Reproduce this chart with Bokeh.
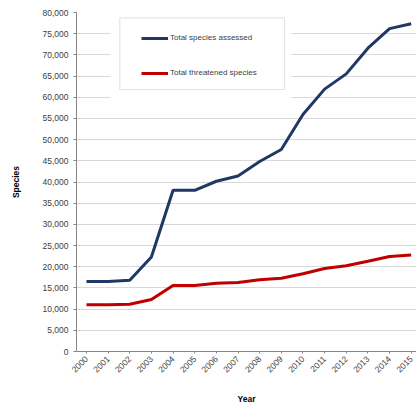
import math
from bokeh.plotting import figure
from bokeh.models import (FixedTicker, NumeralTickFormatter, Legend, LegendItem,
                          BoxAnnotation, Range1d)
from bokeh.embed import file_html
from bokeh.resources import INLINE

years = list(range(2000, 2016))
assessed = [16507, 16507, 16800, 22300, 38047, 38047, 40177, 41415, 44838,
            47677, 55926, 61914, 65518, 71576, 76199, 77340]
threatened = [11046, 11046, 11167, 12259, 15589, 15589, 16118, 16306, 16928,
              17291, 18351, 19570, 20219, 21286, 22413, 22784]
y_ticks = list(range(0, 80001, 5000))
series_names = ["Total species assessed", "Total threatened species"]

FONT = "Liberation Sans"
TXT = "#404040"

p = figure(width=416, height=407, output_backend="svg", toolbar_location=None,
           x_range=Range1d(1999.54, 2015.245), y_range=Range1d(0, 80000),
           min_border_left=76, min_border_right=0, min_border_top=12,
           min_border_bottom=55)
p.outline_line_color = None
p.background_fill_color = "white"

r1 = p.line(years, assessed, line_color="#1F3864", line_width=3)
r2 = p.line(years, threatened, line_color="#C00000", line_width=3)

p.xgrid.visible = False
p.ygrid.grid_line_color = "#D9D9D9"
p.ygrid.grid_line_width = 1
p.ygrid.ticker = FixedTicker(ticks=y_ticks)

p.xaxis.ticker = FixedTicker(ticks=years)
p.xaxis.major_label_orientation = math.pi / 4
p.yaxis.ticker = FixedTicker(ticks=y_ticks)
p.yaxis.formatter = NumeralTickFormatter(format="0,0")
for ax in (p.xaxis, p.yaxis):
    ax.axis_line_color = "#868686"
    ax.major_tick_line_color = "#868686"
    ax.major_tick_in = 0
    ax.minor_tick_line_color = None
    ax.major_label_text_font = FONT
    ax.major_label_text_font_size = "8.5px"
    ax.major_label_text_color = TXT
    ax.axis_label_text_font = FONT
    ax.axis_label_text_font_size = "8.5px"
    ax.axis_label_text_font_style = "bold"
    ax.axis_label_text_color = "#000000"
p.xaxis.major_tick_out = 2
p.yaxis.major_tick_out = 3
p.xaxis.major_label_standoff = 4
p.yaxis.major_label_standoff = 5
p.xaxis.axis_label = "Year"
p.yaxis.axis_label = "Species"
p.xaxis.axis_label_standoff = 16
p.yaxis.axis_label_standoff = 19

# white area behind legend, then legend frame
p.add_layout(BoxAnnotation(left=34, right=215, bottom=252, top=343,
                           left_units="screen", right_units="screen",
                           bottom_units="screen", top_units="screen",
                           fill_color="white", fill_alpha=1, line_color=None))
p.add_layout(BoxAnnotation(left=43.3, right=208, bottom=262, top=333.7,
                           left_units="screen", right_units="screen",
                           bottom_units="screen", top_units="screen",
                           fill_color="white", fill_alpha=1,
                           line_color="#A6A6A6", line_width=1.2))

legend = Legend(items=[LegendItem(label=series_names[0], renderers=[r1]),
                       LegendItem(label=series_names[1], renderers=[r2])],
                location=(65, 273.5), padding=0, margin=0, spacing=25,
                glyph_width=27, glyph_height=10, label_height=10,
                label_standoff=2, border_line_alpha=0,
                background_fill_alpha=0, label_text_font=FONT,
                label_text_font_size="8px", label_text_color=TXT)
p.add_layout(legend)

open("out.html", "w").write(file_html(p, INLINE))
